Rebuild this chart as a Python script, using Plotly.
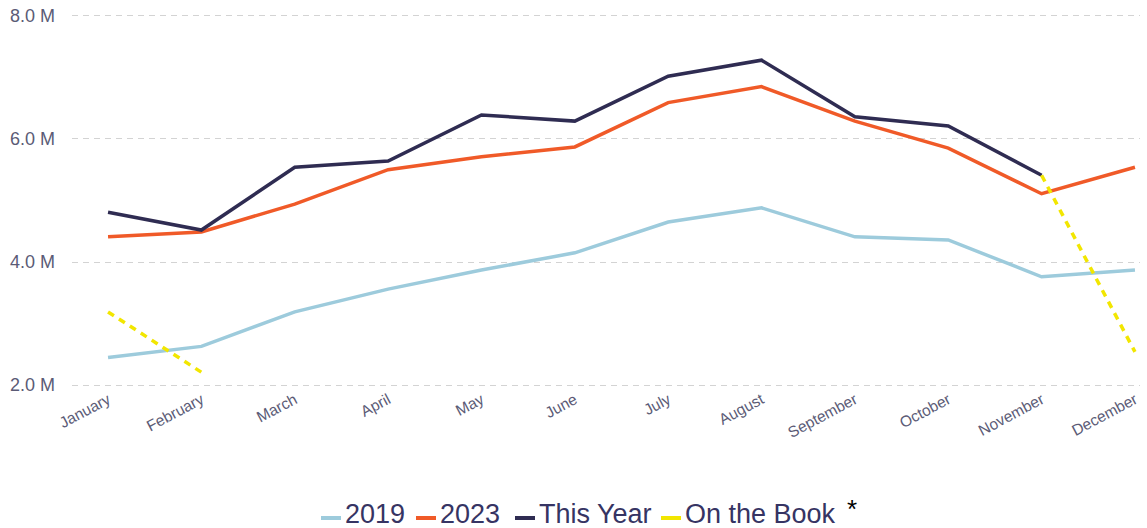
import plotly.graph_objects as go

months = ["January", "February", "March", "April", "May", "June", "July",
          "August", "September", "October", "November", "December"]
y2019 = [2.45e6, 2.63e6, 3.19e6, 3.56e6, 3.87e6, 4.15e6, 4.65e6, 4.88e6, 4.41e6, 4.36e6, 3.76e6, 3.87e6]
y2023 = [4.41e6, 4.49e6, 4.94e6, 5.50e6, 5.71e6, 5.87e6, 6.59e6, 6.85e6, 6.29e6, 5.85e6, 5.11e6, 5.54e6]
this_year = [4.81e6, 4.52e6, 5.54e6, 5.64e6, 6.39e6, 6.29e6, 7.02e6, 7.28e6, 6.36e6, 6.21e6, 5.41e6, None]
on_the_book = [3.19e6, 2.21e6, None, None, None, None, None, None, None, None, 5.41e6, 2.54e6]
y_ticks = [2e6, 4e6, 6e6, 8e6]
y_tick_labels = ["2.0 M", "4.0 M", "6.0 M", "8.0 M"]
legend_names = ["2019", "2023", "This Year", "On the Book"]

C2019 = "#9dcbdc"
C2023 = "#f05a28"
CTY = "#2f2c52"
COTB = "#f2e600"
FONT = "Arial, Liberation Sans, sans-serif"

fig = go.Figure()
fig.add_trace(go.Scatter(x=months, y=y2019, mode="lines", name="2019",
                         line=dict(color=C2019, width=3.5)))
fig.add_trace(go.Scatter(x=months, y=y2023, mode="lines", name="2023",
                         line=dict(color=C2023, width=3.5)))
fig.add_trace(go.Scatter(x=months, y=this_year, mode="lines", name="This Year",
                         line=dict(color=CTY, width=3.5)))
fig.add_trace(go.Scatter(x=months, y=on_the_book, mode="lines", name="On the Book",
                         line=dict(color=COTB, width=3.5, dash="7px,6px")))

# body margin removed via post_script -> figure placed at (0, 0)
W, H = 1147, 528
# y range padded by 0.03 M (~1.85 px) so edge gridlines are drawn
PAD = 0.03e6
L, R, T, B = 72, 7, 14, 141
pw, ph = W - L - R, H - T - B


def px(x):
    return (x - L) / pw


def py(y):
    return (H - B - y) / ph


# custom legend
leg_y = 514
items = [(321, 341, 343, C2019), (416, 436, 438, C2023),
         (515, 535, 537, CTY), (661, 681, 683, COTB)]
shapes = []
annotations = []
for (x0, x1, tx, col), name in zip(items, legend_names):
    shapes.append(dict(type="line", xref="paper", yref="paper",
                       x0=px(x0), x1=px(x1), y0=py(leg_y + 4), y1=py(leg_y + 4),
                       line=dict(color=col, width=4)))
    annotations.append(dict(xref="paper", yref="paper", x=px(tx), y=py(leg_y),
                            text=name, showarrow=False, xanchor="left", yanchor="middle",
                            font=dict(family=FONT, size=27, color="#363463")))
annotations.append(dict(xref="paper", yref="paper", x=px(845), y=py(leg_y - 5),
                        text="*", showarrow=False, xanchor="left", yanchor="middle",
                        font=dict(family=FONT, size=26, color="#000000")))

fig.update_layout(
    width=W, height=H,
    margin=dict(l=L, r=R, t=T, b=B, pad=0, autoexpand=False),
    plot_bgcolor="white", paper_bgcolor="white",
    showlegend=False,
    shapes=shapes, annotations=annotations,
    font=dict(family=FONT),
    xaxis=dict(range=[-0.386, 11.054], showgrid=False, zeroline=False, showline=False,
               automargin=False,
               ticks="", tickangle=-28, tickfont=dict(size=15.5, color="#5b5b76")),
    yaxis=dict(range=[2e6 - PAD, 8e6 + PAD], tickvals=y_ticks, ticktext=y_tick_labels,
               showgrid=True, gridcolor="#d3d3d3", gridwidth=1, griddash="6px,5px",
               zeroline=False, showline=False, ticks="", ticklabelstandoff=16,
               ticklabeloverflow="allow", automargin=False,
               tickfont=dict(size=18, color="#5b5b76")),
)

fig.write_html("out.html", config={"displayModeBar": False},
               post_script="document.body.style.margin='0px';")
